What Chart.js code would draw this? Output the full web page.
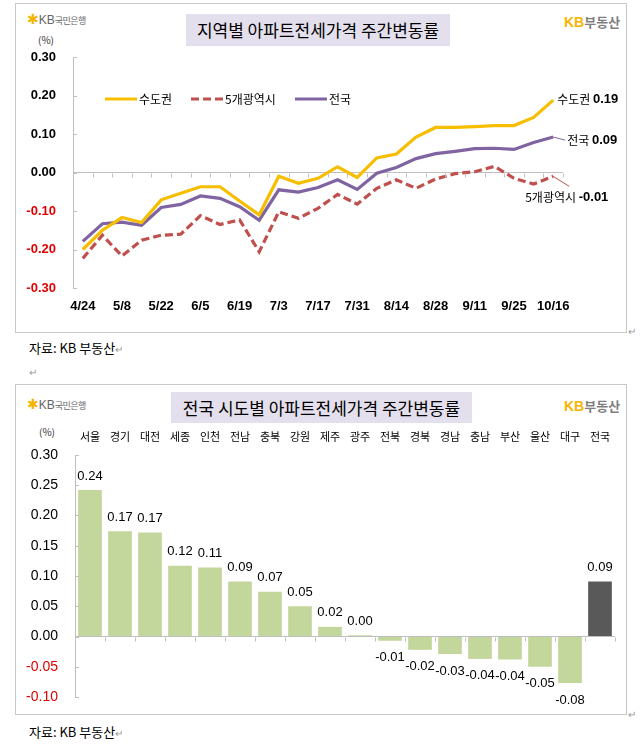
<!DOCTYPE html>
<html>
<head>
<meta charset="utf-8">
<script src="https://cdn.jsdelivr.net/npm/chart.js@4.4.0/dist/chart.umd.min.js"></script>
<style>
  body { margin: 0; background: #fff; width: 644px; height: 745px; position: relative; overflow: hidden;
         font-family: 'Noto Sans CJK KR', 'Noto Sans', sans-serif; color: #000; }
  .abs { position: absolute; white-space: nowrap; }
  .box { position: absolute; left: 15px; width: 612px; border: 1px solid #C8C8C8; box-sizing: border-box; }
  .title { position: absolute; background: #E4DFEC; font-size: 17px; text-align: center; }
  .bank { font-size: 11px; color: #666; line-height: 14px; }
  .bank .star { color: #F5B400; font-weight: bold; font-size: 14px; font-family: 'DejaVu Sans'; }
  .bank .kb { font-family: 'Liberation Sans'; font-size: 12px; }
  .bank .nm { font-size: 9px; letter-spacing: -0.5px; }
  .kbre { font-size: 14px; font-weight: bold; line-height: 18px; }
  .kbre .kb { color: #F7B500; font-family: 'Liberation Sans'; }
  .kbre .nm { color: #7F7F7F; font-size: 13px; }
  .unit { font-size: 10px; color: #333; line-height: 12px; }
  .src { font-size: 13px; line-height: 16px; }
  .ret { color: #999; font-size: 10px; }
  canvas { position: absolute; }
</style>
</head>
<body>

<div class="box" style="top:3px;height:330px;"></div>
<div class="box" style="top:384px;height:331px;"></div>

<!-- 상단 차트 머리 -->
<div class="abs bank" style="left:27px;top:12px;"><span class="star">✱</span><span class="kb">KB</span><span class="nm">국민은행</span></div>
<div class="title" style="left:186px;top:14px;width:264px;height:32px;line-height:32px;">지역별 아파트전세가격 주간변동률</div>
<div class="abs kbre" style="left:564px;top:12px;"><span class="kb">KB</span><span class="nm">부동산</span></div>
<div class="abs unit" style="left:38px;top:34px;">(%)</div>

<!-- 하단 차트 머리 -->
<div class="abs bank" style="left:27px;top:397px;"><span class="star">✱</span><span class="kb">KB</span><span class="nm">국민은행</span></div>
<div class="title" style="left:171px;top:392px;width:301px;height:31px;line-height:31px;">전국 시도별 아파트전세가격 주간변동률</div>
<div class="abs kbre" style="left:564px;top:396px;"><span class="kb">KB</span><span class="nm">부동산</span></div>
<div class="abs unit" style="left:39px;top:426px;">(%)</div>

<div class="abs src" style="left:29px;top:340px;">자료: KB 부동산<span class="ret">↵</span></div>
<div class="abs ret" style="left:29px;top:364px;">↵</div>
<div class="abs ret" style="left:628px;top:323px;">↵</div>
<div class="abs src" style="left:29px;top:724px;">자료: KB 부동산<span class="ret">↵</span></div>
<div class="abs ret" style="left:628px;top:706px;">↵</div>

<canvas id="weeklyLineChart" width="611" height="329" style="left:15px;top:3px;width:611px;height:329px;"></canvas>
<canvas id="regionBarChart" width="611" height="330" style="left:15px;top:384px;width:611px;height:330px;"></canvas>

<script>
// 주간 날짜 (레이블은 2주 간격으로만 표시)
const weekLabels = ['4/24','5/1','5/8','5/15','5/22','5/29','6/5','6/12','6/19','6/26','7/3','7/10','7/17',
                    '7/24','7/31','8/7','8/14','8/21','8/28','9/4','9/11','9/18','9/25','10/9','10/16'];
const capitalArea = [-0.200,-0.150,-0.117,-0.130,-0.071,-0.054,-0.037,-0.037,-0.074,-0.110,-0.010,-0.028,-0.015,
                     0.015,-0.013,0.038,0.048,0.092,0.117,0.117,0.119,0.122,0.122,0.143,0.188];
const fiveMetro = [-0.223,-0.163,-0.217,-0.176,-0.163,-0.160,-0.112,-0.135,-0.123,-0.206,-0.102,-0.119,-0.093,
                   -0.057,-0.082,-0.041,-0.019,-0.041,-0.017,-0.003,0.002,0.016,-0.015,-0.030,-0.010];
const nationwide = [-0.179,-0.133,-0.129,-0.137,-0.091,-0.083,-0.061,-0.067,-0.089,-0.124,-0.045,-0.051,-0.039,
                    -0.019,-0.044,-0.002,0.013,0.036,0.049,0.055,0.062,0.063,0.060,0.078,0.092];
const lineNames = ['수도권', '5개광역시', '전국'];

// 시도별 변동률
const regions = ['서울','경기','대전','세종','인천','전남','충북','강원','제주','광주','전북','경북','경남','충남','부산','울산','대구','전국'];
const regionValues = [0.242,0.174,0.172,0.117,0.114,0.091,0.074,0.050,0.016,0.002,-0.007,-0.022,-0.029,-0.037,-0.038,-0.050,-0.077,0.091];

const YELLOW = '#F7BE00', RED = '#C0504D', PURPLE = '#8064A2';
const AXIS_GRAY = '#BFBFBF';
const NEG_RED = '#E00000';

// 안쪽으로 향하는 눈금 + 0선 아래 짧은 눈금 (엑셀 스타일)
function drawAxisTicks(chart) {
    const c = chart.ctx, y = chart.scales.y, x = chart.scales.x, area = chart.chartArea;
    c.save();
    c.strokeStyle = AXIS_GRAY;
    c.lineWidth = 1;
    c.beginPath();
    y.ticks.forEach(t => {
        const py = Math.round(y.getPixelForValue(t.value)) + 0.5;
        c.moveTo(area.left, py); c.lineTo(area.left + 4, py);
    });
    const y0 = Math.round(y.getPixelForValue(0)) + 0.5;
    const n = x.ticks.length;
    const step = (area.right - area.left) / n;
    for (let i = 1; i <= n; i++) {
        const px = Math.round(area.left + i * step) + 0.5;
        c.moveTo(px, y0); c.lineTo(px, y0 + 4);
    }
    c.stroke();
    c.restore();
}

// y축 폭 고정, 레이블 여백 무시
const fixYAxis = w => s => { s.width = w; s.paddingTop = 0; s.paddingBottom = 0; };

// 범례 + 끝값 레이블
const lineDecor = {
    id: 'lineDecor',
    afterDraw(chart) {
        drawAxisTicks(chart);
        const c = chart.ctx;
        c.save();
        c.textBaseline = 'middle';
        // 범례
        const legendY = 96;
        const items = [[90, YELLOW, []], [176, RED, [8, 4]], [280, PURPLE, []]];
        items.forEach((it, i) => {
            c.strokeStyle = it[1]; c.lineWidth = 3; c.setLineDash(it[2]);
            c.beginPath(); c.moveTo(it[0], legendY); c.lineTo(it[0] + 32, legendY); c.stroke();
            c.setLineDash([]);
            c.fillStyle = '#000';
            c.font = "12px 'Noto Sans CJK KR'";
            c.fillText(lineNames[i], it[0] + 34, legendY);
        });
        // 끝값
        const last = weekLabels.length - 1;
        const sets = [capitalArea, fiveMetro, nationwide];
        const pts = sets.map((s, i) => chart.getDatasetMeta(i).data[last]);
        const label = (name, val, x, y) => {
            c.fillStyle = '#000';
            c.font = "12px 'Noto Sans CJK KR'";
            c.fillText(name, x, y);
            const w = c.measureText(name + ' ').width;
            c.font = "bold 13px 'Liberation Sans'";
            c.fillText(val.toFixed(2), x + w, y);
        };
        // 수도권
        label(lineNames[0], capitalArea[last], pts[0].x + 4, pts[0].y - 1);
        // 전국
        c.strokeStyle = PURPLE; c.lineWidth = 1;
        c.beginPath(); c.moveTo(pts[2].x, pts[2].y); c.lineTo(pts[2].x + 12, pts[2].y + 3); c.stroke();
        label(lineNames[2], nationwide[last], pts[2].x + 14, pts[2].y + 3);
        // 5개광역시
        c.strokeStyle = RED;
        c.beginPath(); c.moveTo(pts[1].x, pts[1].y); c.lineTo(pts[1].x + 16, pts[1].y + 10); c.stroke();
        label(lineNames[1], fiveMetro[last], pts[1].x - 28, pts[1].y + 21);
        c.restore();
    }
};

new Chart(document.getElementById('weeklyLineChart'), {
    type: 'line',
    data: {
        labels: weekLabels,
        datasets: [
            { label: lineNames[0], data: capitalArea, borderColor: YELLOW, borderWidth: 3.2 },
            { label: lineNames[1], data: fiveMetro, borderColor: RED, borderWidth: 3.2, borderDash: [8, 4] },
            { label: lineNames[2], data: nationwide, borderColor: PURPLE, borderWidth: 3.2 }
        ]
    },
    options: {
        responsive: false,
        maintainAspectRatio: false,
        animation: false,
        layout: { padding: { left: 0, right: 63, top: 54, bottom: 0 } },
        elements: { point: { radius: 0 }, line: { tension: 0 } },
        plugins: { legend: { display: false }, tooltip: { enabled: false } },
        scales: {
            x: {
                offset: true,
                grid: { display: false, drawTicks: false },
                border: { display: false },
                afterFit: s => { s.height = 44; },
                ticks: {
                    autoSkip: false, maxRotation: 0, padding: 11, color: '#000',
                    font: { family: 'Liberation Sans', size: 13, weight: 'bold' },
                    callback: function (v, i) { return i % 2 === 0 ? this.getLabelForValue(v) : ''; }
                }
            },
            y: {
                min: -0.3, max: 0.3,
                afterFit: fixYAxis(58),
                grid: {
                    drawTicks: false,
                    color: ctx => ctx.tick && Math.abs(ctx.tick.value) < 1e-9 ? AXIS_GRAY : 'rgba(0,0,0,0)'
                },
                border: { color: AXIS_GRAY },
                ticks: {
                    stepSize: 0.1, padding: 17,
                    font: { family: 'Liberation Sans', size: 13, weight: 'bold' },
                    color: ctx => ctx.tick.value < -1e-9 ? NEG_RED : '#000',
                    callback: v => v.toFixed(2)
                }
            }
        }
    },
    plugins: [lineDecor]
});

// 막대 값 레이블
const barDecor = {
    id: 'barDecor',
    afterDraw(chart) {
        drawAxisTicks(chart);
        const c = chart.ctx;
        c.save();
        c.fillStyle = '#000';
        c.font = "13px 'Liberation Sans'";
        c.textAlign = 'center';
        c.textBaseline = 'middle';
        chart.getDatasetMeta(0).data.forEach((bar, i) => {
            const v = regionValues[i];
            const y = v >= 0 ? bar.y - 14 : bar.y + 17;
            c.fillText(v.toFixed(2), bar.x, y);
        });
        c.restore();
    }
};

new Chart(document.getElementById('regionBarChart'), {
    type: 'bar',
    data: {
        labels: regions,
        datasets: [{
            data: regionValues,
            backgroundColor: regions.map(r => r === '전국' ? '#595959' : '#C3D69B'),
            barPercentage: 0.79,
            categoryPercentage: 1
        }]
    },
    options: {
        responsive: false,
        maintainAspectRatio: false,
        animation: false,
        layout: { padding: { left: 0, right: 11, top: 30, bottom: 17 } },
        plugins: { legend: { display: false }, tooltip: { enabled: false } },
        scales: {
            x: {
                position: 'top',
                grid: { display: false, drawTicks: false },
                border: { display: false },
                afterFit: s => { s.height = 41; },
                ticks: {
                    autoSkip: false, maxRotation: 0, padding: 12, color: '#000',
                    font: { family: 'Noto Sans CJK KR', size: 11 }
                }
            },
            y: {
                min: -0.1, max: 0.3,
                afterFit: fixYAxis(60),
                grid: {
                    drawTicks: false,
                    color: ctx => ctx.tick && Math.abs(ctx.tick.value) < 1e-9 ? AXIS_GRAY : 'rgba(0,0,0,0)'
                },
                border: { color: AXIS_GRAY },
                ticks: {
                    stepSize: 0.05, padding: 17,
                    font: { family: 'Liberation Sans', size: 14 },
                    color: ctx => ctx.tick.value < -1e-9 ? NEG_RED : '#000',
                    callback: v => v.toFixed(2)
                }
            }
        }
    },
    plugins: [barDecor]
});
</script>
</body>
</html>
